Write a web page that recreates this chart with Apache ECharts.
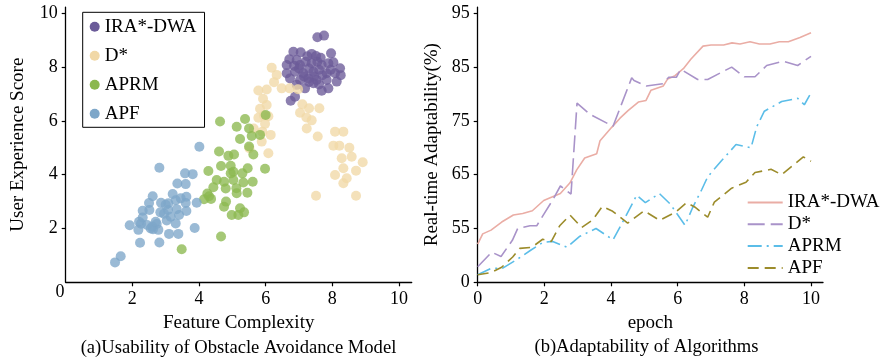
<!DOCTYPE html>
<html><head><meta charset="utf-8">
<script src="https://cdn.jsdelivr.net/npm/echarts@6/dist/echarts.min.js"></script>
<style>html,body{margin:0;padding:0;background:#fff}#c{width:884px;height:362px}</style>
</head><body><div id="c"></div>
<script>
// ---------- Left panel: scatter ----------
const scatterNames = ['IRA*-DWA', 'D*', 'APRM', 'APF'];
const iraDwaPts = [[7.55,9.11],[7.75,9.17],[7.05,8.55],[7.38,8.49],[7.51,8.41],[7.96,8.51],[6.83,8.57],
 [6.71,8.29],[6.93,8.26],[6.63,8.08],[7.03,8.08],[7.2,8.2],[7.38,8.14],[7.55,8.2],[7.68,8.08],[7.88,8.14],[8.03,8.18],[8.23,7.96],
 [6.63,7.77],[6.88,7.83],[7.13,7.77],[7.3,7.95],[7.43,7.83],[7.6,7.9],[7.83,7.77],[8.08,7.77],[7.0,7.95],[7.7,7.7],
 [6.73,7.58],[7.03,7.52],[7.28,7.58],[7.53,7.52],[7.83,7.52],[8.13,7.46],[7.15,7.65],[7.45,7.65],[7.95,7.9],
 [6.93,7.34],[7.18,7.21],[7.43,7.4],[7.68,7.12],[7.88,7.21],[7.3,7.45],[7.6,7.35],
 [6.75,6.75],[6.88,6.9],[6.85,8.05],[7.25,8.4],[7.65,8.35],[8.25,7.7]];
const dStarPts = [[6.18,7.98],[6.33,7.71],[6.25,7.44],[6.48,7.21],[6.72,7.21],[6.97,7.18],[5.78,7.13],[6.03,7.17],[5.92,6.82],
 [5.83,6.45],[6.03,6.59],[5.78,6.12],[6.08,6.17],[5.98,5.89],[5.64,5.72],[6.15,5.48],[5.88,5.23],[5.51,4.98],[6.08,4.8],
 [7.1,6.62],[7.3,6.47],[7.61,6.47],[7.03,6.3],[7.22,6.13],[7.38,6.02],[7.23,5.72],[7.56,5.42],[8.08,5.6],[8.33,5.6],
 [8.03,5.08],[8.21,5.08],[8.51,5.0],[8.28,4.61],[8.58,4.67],[8.91,4.46],[8.33,4.24],[8.71,4.15],[8.08,3.99],[8.43,3.87],
 [8.33,3.68],[7.51,3.22],[8.71,3.22],[5.95,6.2],[5.9,5.6]];
const aprmPts = [[4.63,5.98],[5.38,6.07],[5.13,5.78],[5.5,5.72],[5.23,5.33],[5.58,5.44],[5.83,5.48],[6.0,6.22],[5.63,4.75],
 [4.6,4.86],[4.88,4.7],[5.05,4.75],[4.66,4.32],[4.95,4.33],[5.03,4.11],[5.3,4.05],[5.46,4.24],[5.98,4.22],[4.28,4.14],
 [4.53,3.8],[4.43,3.53],[4.75,3.74],[5.03,3.8],[5.33,3.71],[5.61,3.74],[4.8,3.49],[5.12,3.5],[5.45,3.33],[5.13,3.31],
 [4.15,3.09],[4.3,3.2],[4.36,3.1],[4.81,3.0],[4.75,2.81],[5.23,2.75],[5.35,2.6],[4.98,2.5],[5.18,2.5],[4.66,1.7],
 [3.48,1.23],[4.25,3.3],[5.5,5.05],[4.95,4.05]];
const apfPts = [[4.01,5.04],[2.81,4.26],[3.58,4.05],[3.81,4.02],[3.35,3.67],[3.6,3.65],[2.61,3.2],[3.21,3.28],[3.45,3.12],
 [3.62,3.18],[3.93,2.96],[2.5,2.95],[2.86,2.96],[3.08,2.94],[3.3,3.05],[3.6,2.95],[2.31,2.66],[2.51,2.69],[3.07,2.69],
 [3.33,2.72],[3.62,2.65],[2.84,2.6],[3.15,2.44],[2.31,2.41],[1.92,2.12],[2.26,2.18],[2.6,2.07],[2.73,2.17],[3.03,2.3],
 [3.3,2.19],[2.18,1.95],[2.62,1.97],[2.78,1.95],[3.1,1.8],[3.38,1.8],[3.87,2.02],[2.23,1.47],[2.81,1.48],[1.48,0.74],
 [1.65,0.97],[2.44,2.13],[2.95,2.55],[3.0,2.88],[3.4,2.5],[2.55,2.0],[2.2,2.25],[2.7,2.25]];
const leftXTicks = [2, 4, 6, 8, 10];
const leftYTicks = [2, 4, 6, 8, 10];

// ---------- Right panel: lines ----------
const lineNames = ['IRA*-DWA', 'D*', 'APRM', 'APF'];
const iraDwaLine = [[0,52.1],[0.15,54.0],[0.4,54.7],[0.72,56.2],[1.07,57.5],[1.35,57.8],[1.64,58.3],[1.98,60.2],[2.21,60.8],
 [2.48,61.5],[2.77,63.5],[2.97,65.9],[3.21,68.1],[3.57,68.9],[3.67,71.3],[4.02,73.8],[4.27,75.5],[4.51,76.9],[4.82,78.5],
 [5.05,78.8],[5.2,80.7],[5.57,81.5],[5.7,82.8],[5.92,83.4],[6.17,84.7],[6.4,86.5],[6.76,88.9],[7.0,89.1],[7.38,89.1],
 [7.63,89.5],[7.87,89.3],[8.17,89.7],[8.45,89.3],[8.77,89.3],[9.05,89.7],[9.32,89.7],[9.67,90.5],[10,91.4]];
const dStarLine = [[0,47.9],[0.42,50.6],[0.7,49.8],[1.04,52.8],[1.2,55.0],[1.57,55.5],[1.77,55.5],[2.0,57.8],[2.25,60.3],
 [2.48,62.9],[2.8,61.4],[2.98,78.3],[3.37,76.2],[4.06,74.0],[4.62,83.0],[4.69,82.5],[5.06,81.5],[5.55,81.9],[5.73,83.1],
 [5.96,83.1],[6.09,84.6],[6.6,82.7],[6.9,82.7],[7.62,85.0],[8.0,83.2],[8.32,83.2],[8.67,85.3],[9.17,86.1],[9.6,85.3],[10,87.0]];
const aprmLine = [[0,46.4],[0.4,47.6],[0.74,47.6],[1.17,49.2],[1.6,51.0],[1.95,52.4],[2.25,52.6],[2.68,51.5],[3.05,53.5],
 [3.55,55.0],[4.06,52.9],[4.42,57.0],[4.77,61.2],[5.03,59.8],[5.45,61.5],[5.77,59.6],[6.22,55.6],[6.45,58.9],[6.72,62.2],
 [6.9,64.6],[7.3,67.5],[7.52,69.0],[7.75,70.6],[8.2,70.0],[8.37,73.9],[8.6,76.8],[9.12,78.6],[9.6,79.2],[9.8,78.0],[10,80.2]];
const apfLine = [[0,46.4],[0.4,46.8],[0.72,47.8],[1.05,49.7],[1.26,51.3],[1.62,51.5],[1.95,53.0],[2.21,52.6],[2.46,55.5],
 [2.77,57.5],[3.12,55.2],[3.45,56.6],[3.74,59.1],[4.05,58.2],[4.5,56.0],[4.99,58.3],[5.46,56.5],[5.95,58.1],[6.27,59.8],
 [6.51,59.0],[6.9,57.1],[7.1,59.9],[7.62,62.5],[8.05,63.6],[8.32,65.4],[8.8,66.0],[9.12,65.0],[9.77,68.3],[10,67.5]];
const rightXTicks = [0, 2, 4, 6, 8, 10];
const rightYTicks = [45, 55, 65, 75, 85, 95];
const rightYLabels = ['0', '55', '65', '75', '85', '95'];

const FONT = "'Liberation Serif', 'Times New Roman', serif";
const scatterColors = ['#6b5b99', '#f1d8a6', '#8cb84f', '#7ea7c9'];
const lineColors = ['#eaada5', '#a993c9', '#5bbde8', '#9c8c2b'];

function axisBase() {
  return {
    axisLine: { show: true, onZero: false, lineStyle: { color: '#000', width: 1.3 } },
    axisTick: { show: true, inside: false, length: 4, lineStyle: { color: '#000', width: 1.2 } },
    splitLine: { show: false },
    axisLabel: { color: '#000', fontFamily: FONT, fontSize: 18, margin: 8 },
    nameTextStyle: { color: '#000', fontFamily: FONT, fontSize: 19 },
    nameLocation: 'middle'
  };
}

const chart = echarts.init(document.getElementById('c'), null, { renderer: 'canvas' });

const scatterData = [iraDwaPts, dStarPts, aprmPts, apfPts];
const lineData = [iraDwaLine, dStarLine, aprmLine, apfLine];
const lineDash = ['solid', [17, 6], [14, 5, 2, 5], [11, 6]];

const series = [];
scatterNames.forEach((n, i) => {
  series.push({
    type: 'scatter', name: n, xAxisIndex: 0, yAxisIndex: 0,
    data: scatterData[i], symbolSize: 10,
    itemStyle: { color: scatterColors[i], opacity: 0.78 }
  });
});
lineNames.forEach((n, i) => {
  series.push({
    type: 'line', name: n + ' ', xAxisIndex: 1, yAxisIndex: 1,
    data: lineData[i], showSymbol: false, symbol: 'none',
    lineStyle: { color: lineColors[i], width: 1.6, type: lineDash[i] },
    itemStyle: { color: lineColors[i] }
  });
});

chart.setOption({
  animation: false,
  backgroundColor: '#fff',
  grid: [
    { left: 65.7, top: 7.1, width: 346, height: 275.2 },
    { left: 477.7, top: 7.1, width: 345.3, height: 275.2 }
  ],
  xAxis: [
    Object.assign(axisBase(), { gridIndex: 0, type: 'value', min: 0, max: 10.38,
      name: 'Feature Complexity', nameGap: 30,
      axisTick: Object.assign(axisBase().axisTick, { customValues: leftXTicks }),
      axisLabel: Object.assign(axisBase().axisLabel, { customValues: leftXTicks }) }),
    Object.assign(axisBase(), { gridIndex: 1, type: 'value', min: 0, max: 10.36,
      name: 'epoch', nameGap: 29,
      axisTick: Object.assign(axisBase().axisTick, { customValues: rightXTicks }),
      axisLabel: Object.assign(axisBase().axisLabel, { customValues: rightXTicks }) })
  ],
  yAxis: [
    Object.assign(axisBase(), { gridIndex: 0, type: 'value', min: 0, max: 10.23,
      name: 'User Experience Score', nameGap: 38,
      axisTick: Object.assign(axisBase().axisTick, { customValues: leftYTicks }),
      axisLabel: Object.assign(axisBase().axisLabel, { customValues: leftYTicks }) }),
    Object.assign(axisBase(), { gridIndex: 1, type: 'value', min: 45, max: 96.15,
      name: 'Real-time Adaptability(%)', nameGap: 36,
      axisTick: Object.assign(axisBase().axisTick, { customValues: rightYTicks }),
      axisLabel: Object.assign(axisBase().axisLabel, { customValues: rightYTicks,
        formatter: v => rightYLabels[rightYTicks.indexOf(v)] !== undefined ? rightYLabels[rightYTicks.indexOf(v)] : String(v) }) })
  ],
  legend: [
    { data: scatterNames.map(n => ({ name: n, icon: 'circle' })), orient: 'vertical', left: 82.7, top: 12.3,
      itemWidth: 10, itemHeight: 10, itemGap: 10, itemStyle: { opacity: 1 },
      padding: [5, 8, 4, 7], borderColor: '#000', borderWidth: 1, backgroundColor: '#fff',
      textStyle: { color: '#000', fontFamily: FONT, fontSize: 19, lineHeight: 19 } },
    { data: lineNames.map(n => n + ' '), orient: 'vertical', left: 746.7, top: 193,
      itemWidth: 35, itemHeight: 14, itemGap: 2.8, padding: 0,
      itemStyle: { opacity: 0 },
      textStyle: { color: '#000', fontFamily: FONT, fontSize: 19, lineHeight: 16.5 } }
  ],
  graphic: [
    { type: 'text', x: 60, y: 292, style: { text: '0', fontFamily: FONT, fontSize: 18, fill: '#000', align: 'center', verticalAlign: 'middle' } },
    { type: 'text', x: 238.5, y: 348, style: { text: '(a)Usability of Obstacle Avoidance Model', fontFamily: FONT, fontSize: 18.6, fill: '#000', align: 'center', verticalAlign: 'middle' } },
    { type: 'text', x: 646.5, y: 347, style: { text: '(b)Adaptability of Algorithms', fontFamily: FONT, fontSize: 18.6, fill: '#000', align: 'center', verticalAlign: 'middle' } }
  ],
  series: series
});
</script></body></html>
